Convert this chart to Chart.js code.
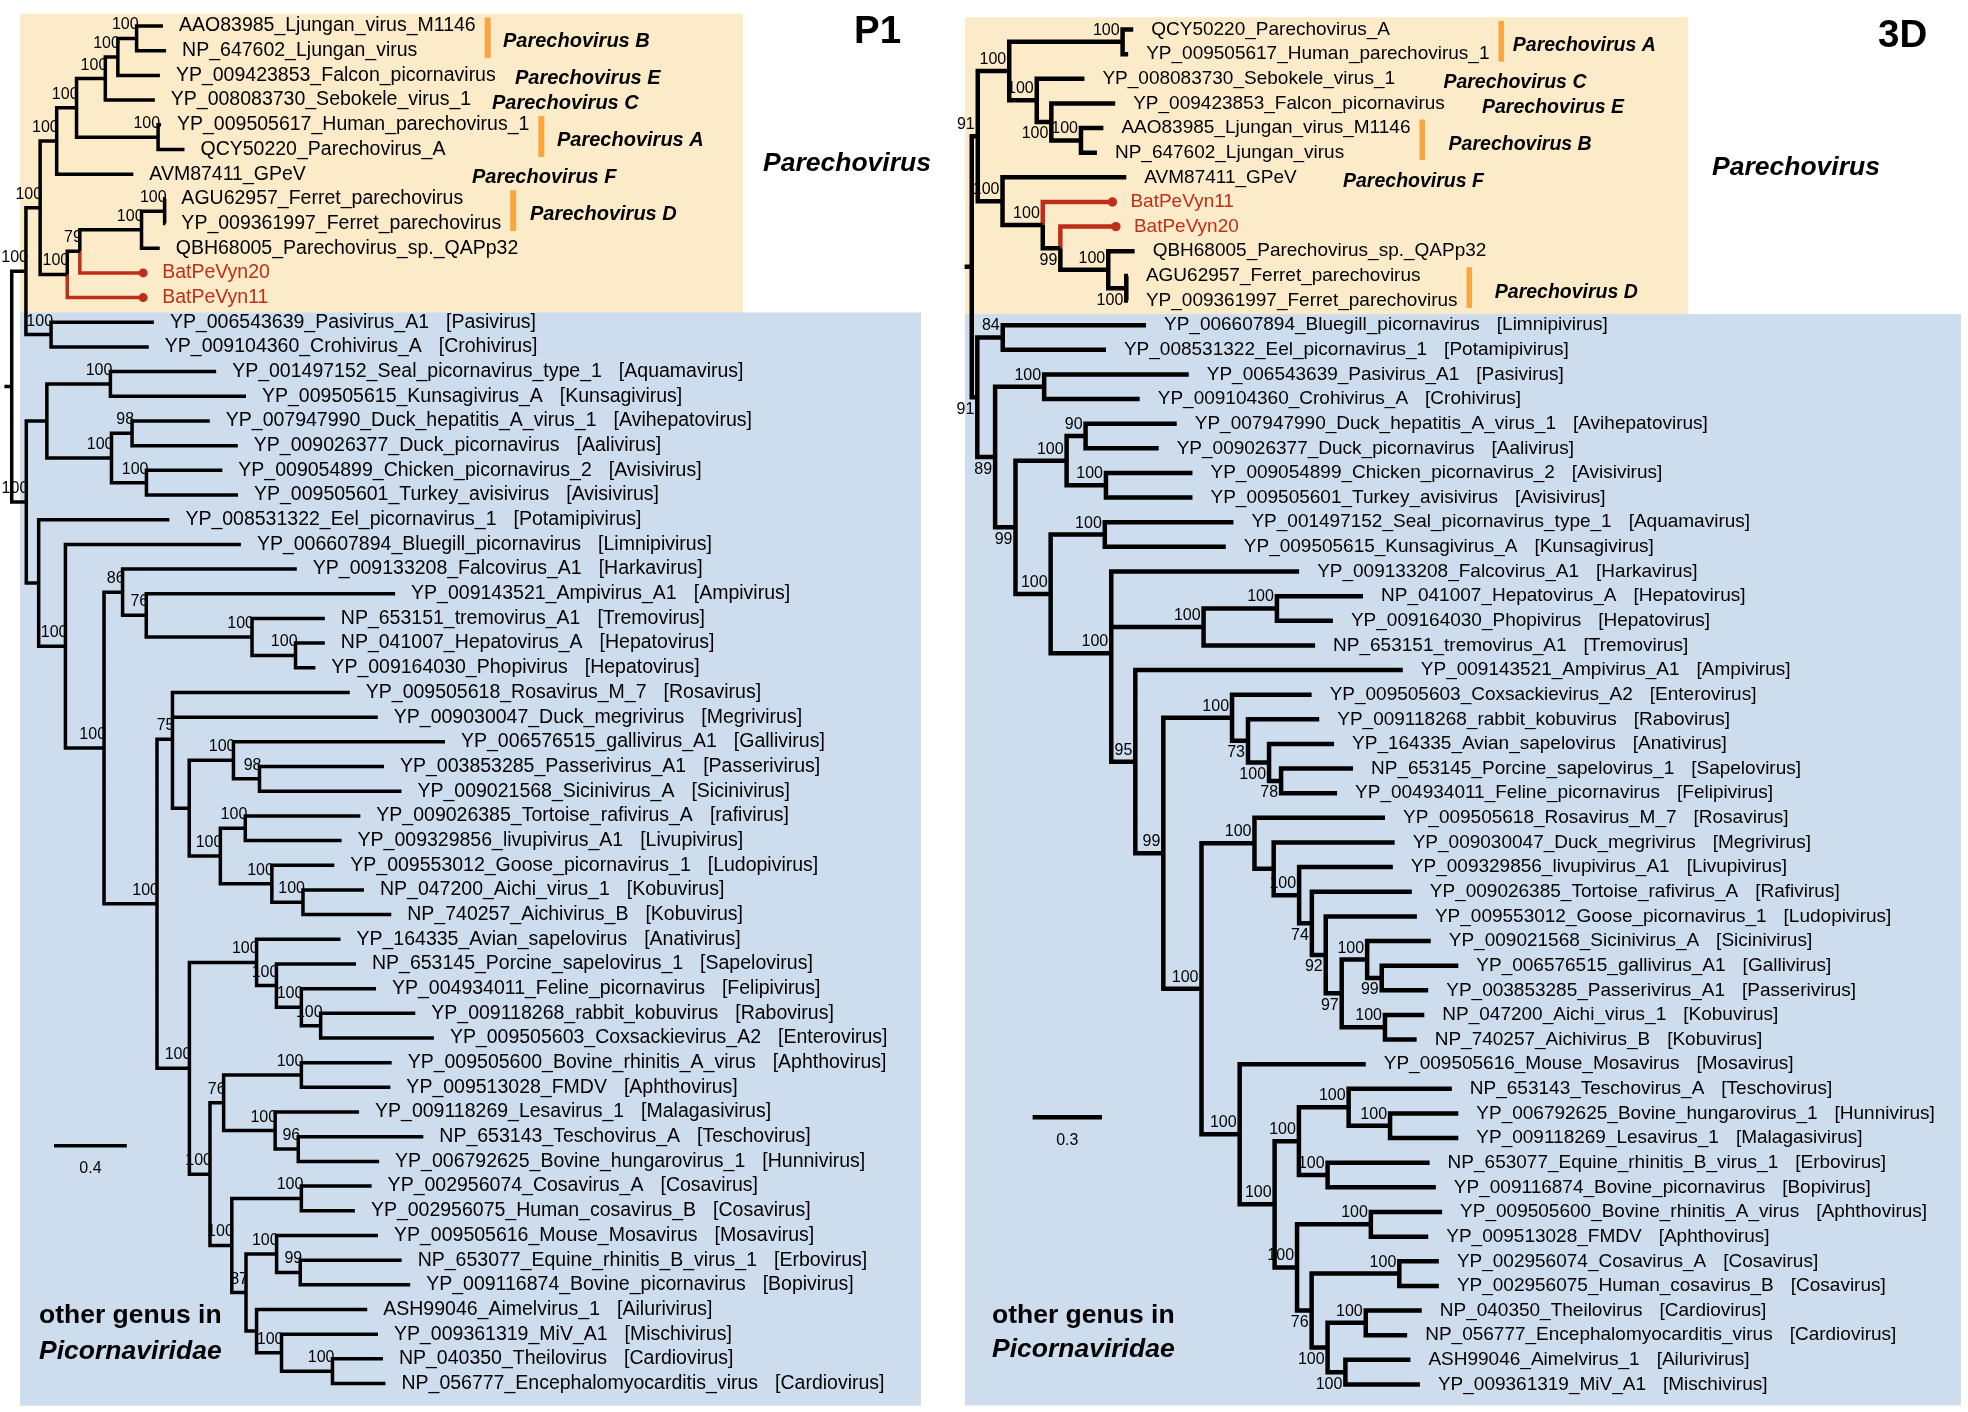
<!DOCTYPE html>
<html>
<head>
<meta charset="utf-8">
<title>Picornaviridae phylogeny - P1 and 3D</title>
<script src="https://cdn.jsdelivr.net/npm/chart.js@4.4.1/dist/chart.umd.min.js"></script>
<style>
  html, body { margin: 0; padding: 0; background: #fff; }
  #wrap { position: relative; width: 1968px; height: 1412px; overflow: hidden; }
  #wrap canvas { position: absolute; top: 0; }
  #p1 { left: 0; }
  #p3 { left: 940px; }
</style>
</head>
<body>
<div id="wrap">
  <canvas id="p1" width="940" height="1412"></canvas>
  <canvas id="p3" width="1028" height="1412"></canvas>
</div>
<script>
// ---- P1 tree data ----
const p1Taxa = [
    'AAO83985_Ljungan_virus_M1146', 'NP_647602_Ljungan_virus', 'YP_009423853_Falcon_picornavirus',
    'YP_008083730_Sebokele_virus_1', 'YP_009505617_Human_parechovirus_1', 'QCY50220_Parechovirus_A',
    'AVM87411_GPeV', 'AGU62957_Ferret_parechovirus', 'YP_009361997_Ferret_parechovirus',
    'QBH68005_Parechovirus_sp._QAPp32', 'BatPeVyn20', 'BatPeVyn11',
    'YP_006543639_Pasivirus_A1', 'YP_009104360_Crohivirus_A', 'YP_001497152_Seal_picornavirus_type_1',
    'YP_009505615_Kunsagivirus_A', 'YP_007947990_Duck_hepatitis_A_virus_1', 'YP_009026377_Duck_picornavirus',
    'YP_009054899_Chicken_picornavirus_2', 'YP_009505601_Turkey_avisivirus', 'YP_008531322_Eel_picornavirus_1',
    'YP_006607894_Bluegill_picornavirus', 'YP_009133208_Falcovirus_A1', 'YP_009143521_Ampivirus_A1',
    'NP_653151_tremovirus_A1', 'NP_041007_Hepatovirus_A', 'YP_009164030_Phopivirus',
    'YP_009505618_Rosavirus_M_7', 'YP_009030047_Duck_megrivirus', 'YP_006576515_gallivirus_A1',
    'YP_003853285_Passerivirus_A1', 'YP_009021568_Sicinivirus_A', 'YP_009026385_Tortoise_rafivirus_A',
    'YP_009329856_livupivirus_A1', 'YP_009553012_Goose_picornavirus_1', 'NP_047200_Aichi_virus_1',
    'NP_740257_Aichivirus_B', 'YP_164335_Avian_sapelovirus', 'NP_653145_Porcine_sapelovirus_1',
    'YP_004934011_Feline_picornavirus', 'YP_009118268_rabbit_kobuvirus', 'YP_009505603_Coxsackievirus_A2',
    'YP_009505600_Bovine_rhinitis_A_virus', 'YP_009513028_FMDV', 'YP_009118269_Lesavirus_1',
    'NP_653143_Teschovirus_A', 'YP_006792625_Bovine_hungarovirus_1', 'YP_002956074_Cosavirus_A',
    'YP_002956075_Human_cosavirus_B', 'YP_009505616_Mouse_Mosavirus', 'NP_653077_Equine_rhinitis_B_virus_1',
    'YP_009116874_Bovine_picornavirus', 'ASH99046_Aimelvirus_1', 'YP_009361319_MiV_A1',
    'NP_040350_Theilovirus', 'NP_056777_Encephalomyocarditis_virus'
];
const p1Genus = [
    '', '', '', '', '', '', '', '', '', '', '', '',
    'Pasivirus', 'Crohivirus', 'Aquamavirus', 'Kunsagivirus', 'Avihepatovirus', 'Aalivirus',
    'Avisivirus', 'Avisivirus', 'Potamipivirus', 'Limnipivirus', 'Harkavirus', 'Ampivirus',
    'Tremovirus', 'Hepatovirus', 'Hepatovirus', 'Rosavirus', 'Megrivirus', 'Gallivirus',
    'Passerivirus', 'Sicinivirus', 'rafivirus', 'Livupivirus', 'Ludopivirus', 'Kobuvirus',
    'Kobuvirus', 'Anativirus', 'Sapelovirus', 'Felipivirus', 'Rabovirus', 'Enterovirus',
    'Aphthovirus', 'Aphthovirus', 'Malagasivirus', 'Teschovirus', 'Hunnivirus', 'Cosavirus',
    'Cosavirus', 'Mosavirus', 'Erbovirus', 'Bopivirus', 'Ailurivirus', 'Mischivirus',
    'Cardiovirus', 'Cardiovirus'
];
// newick: leaves are indices into p1Taxa, node labels are bootstrap values, lengths in subst./site
const p1Tree =
    '(((' +
    '(((((0:0.145,1:0.162)100:0.103,2:0.231)100:0.069,3:0.272)100:0.158,(4:0.016,5:0.145)100:0.448)100:0.109,6:0.421)100:0.091,' +
    '((((7:0.004,8:0.004)100:0.127,9:0.100)100:0.339,10:0.348)79:0.069,11:0.417)100:0.149' +
    ')100:0.078,(12:0.565,13:0.537)100:0.138)100:0.078,' +
    '(((14:0.581,15:0.745)100:0.349,((16:0.427,17:0.581)98:0.113,(18:0.417,19:0.503)100:0.192)100:0.355):0.113,' +
    '(20:0.718,(21:0.964,(' +
    '(22:0.957,(23:1.367,(24:0.400,(25:0.161,26:0.109)100:0.239)100:0.581)76:0.130)86:0.102,' +
    '((27:0.974,28:1.128,((29:1.162,(30:0.684,31:0.780)98:0.143)100:0.243,((32:0.632,33:0.529)100:0.137,(34:0.343,(35:0.335,36:0.485)100:0.171)100:0.283)100:0.171):0.092)75:0.085,' +
    '((37:0.461,(38:0.437,(39:0.410,(40:0.520,41:0.622)100:0.106)100:0.137)100:0.109)100:0.369,' +
    '(((42:0.496,43:0.489)100:0.427,(44:0.461,(45:0.687,46:0.444)96:0.127)100:0.283)76:0.075,' +
    '((47:0.386,48:0.294)100:0.382,((49:0.557,(50:0.557,51:0.604)99:0.130)100:0.168,(52:0.608,(53:0.530,(54:0.277,55:0.291)100:0.280)100:0.137):0.058)87:0.078)100:0.120' +
    ')100:0.113)100:0.178)100:0.291)100:0.212)100:0.147):0.068)100:0.080):0.040;';
const p1Highlight = [10, 11];
const p1Clades = [
    ['Parechovirus B', 0, 1, true], ['Parechovirus E', 2, 2, false], ['Parechovirus C', 3, 3, false],
    ['Parechovirus A', 4, 5, true], ['Parechovirus F', 6, 6, false], ['Parechovirus D', 7, 8, true]
];
const p1ScaleBar = 0.4;

// ---- 3D tree data ----
const p3Taxa = [
    'QCY50220_Parechovirus_A', 'YP_009505617_Human_parechovirus_1', 'YP_008083730_Sebokele_virus_1',
    'YP_009423853_Falcon_picornavirus', 'AAO83985_Ljungan_virus_M1146', 'NP_647602_Ljungan_virus',
    'AVM87411_GPeV', 'BatPeVyn11', 'BatPeVyn20',
    'QBH68005_Parechovirus_sp._QAPp32', 'AGU62957_Ferret_parechovirus', 'YP_009361997_Ferret_parechovirus',
    'YP_006607894_Bluegill_picornavirus', 'YP_008531322_Eel_picornavirus_1', 'YP_006543639_Pasivirus_A1',
    'YP_009104360_Crohivirus_A', 'YP_007947990_Duck_hepatitis_A_virus_1', 'YP_009026377_Duck_picornavirus',
    'YP_009054899_Chicken_picornavirus_2', 'YP_009505601_Turkey_avisivirus', 'YP_001497152_Seal_picornavirus_type_1',
    'YP_009505615_Kunsagivirus_A', 'YP_009133208_Falcovirus_A1', 'NP_041007_Hepatovirus_A',
    'YP_009164030_Phopivirus', 'NP_653151_tremovirus_A1', 'YP_009143521_Ampivirus_A1',
    'YP_009505603_Coxsackievirus_A2', 'YP_009118268_rabbit_kobuvirus', 'YP_164335_Avian_sapelovirus',
    'NP_653145_Porcine_sapelovirus_1', 'YP_004934011_Feline_picornavirus', 'YP_009505618_Rosavirus_M_7',
    'YP_009030047_Duck_megrivirus', 'YP_009329856_livupivirus_A1', 'YP_009026385_Tortoise_rafivirus_A',
    'YP_009553012_Goose_picornavirus_1', 'YP_009021568_Sicinivirus_A', 'YP_006576515_gallivirus_A1',
    'YP_003853285_Passerivirus_A1', 'NP_047200_Aichi_virus_1', 'NP_740257_Aichivirus_B',
    'YP_009505616_Mouse_Mosavirus', 'NP_653143_Teschovirus_A', 'YP_006792625_Bovine_hungarovirus_1',
    'YP_009118269_Lesavirus_1', 'NP_653077_Equine_rhinitis_B_virus_1', 'YP_009116874_Bovine_picornavirus',
    'YP_009505600_Bovine_rhinitis_A_virus', 'YP_009513028_FMDV', 'YP_002956074_Cosavirus_A',
    'YP_002956075_Human_cosavirus_B', 'NP_040350_Theilovirus', 'NP_056777_Encephalomyocarditis_virus',
    'ASH99046_Aimelvirus_1', 'YP_009361319_MiV_A1'
];
const p3Genus = [
    '', '', '', '', '', '', '', '', '', '', '', '',
    'Limnipivirus', 'Potamipivirus', 'Pasivirus', 'Crohivirus', 'Avihepatovirus', 'Aalivirus',
    'Avisivirus', 'Avisivirus', 'Aquamavirus', 'Kunsagivirus', 'Harkavirus', 'Hepatovirus',
    'Hepatovirus', 'Tremovirus', 'Ampivirus', 'Enterovirus', 'Rabovirus', 'Anativirus',
    'Sapelovirus', 'Felipivirus', 'Rosavirus', 'Megrivirus', 'Livupivirus', 'Rafivirus',
    'Ludopivirus', 'Sicinivirus', 'Gallivirus', 'Passerivirus', 'Kobuvirus', 'Kobuvirus',
    'Mosavirus', 'Teschovirus', 'Hunnivirus', 'Malagasivirus', 'Erbovirus', 'Bopivirus',
    'Aphthovirus', 'Aphthovirus', 'Cosavirus', 'Cosavirus', 'Cardiovirus', 'Cardiovirus',
    'Ailurivirus', 'Mischivirus'
];
const p3Tree =
    '(' +
    '(((0:0.046,1:0.024)100:0.490,(2:0.206,(3:0.276,(4:0.097,5:0.069)100:0.128)100:0.063)100:0.119)100:0.136,' +
    '(6:0.535,(7:0.301,(8:0.240,(9:0.114,(10:0.007,11:0.007)100:0.078)100:0.207)99:0.076)100:0.174)100:0.107)91:0.026,' +
    '((12:0.619,13:0.446)84:0.110,' +
    '((14:0.625,15:0.413)100:0.212,' +
    '(((16:0.394,17:0.316)90:0.082,(18:0.374,19:0.374)100:0.170)100:0.221,' +
    '((20:0.556,21:0.523)100:0.234,' +
    '(22:0.812,((23:0.372,24:0.242)100:0.317,25:0.482)100:0.399,' +
    '(26:1.156,(' +
    '(27:0.344,(28:0.308,(29:0.281,(30:0.311,31:0.242)78:0.052)100:0.091)73:0.069)100:0.297,' +
    '(' +
    '(32:0.564,(33:0.523,(34:0.405,(35:0.432,(36:0.394,((37:0.275,(38:0.331,39:0.201)99:0.063)100:0.110,(40:0.170,41:0.137)100:0.187)97:0.069)92:0.060)74:0.055)100:0.110):0.083)100:0.229,' +
    '(42:0.545,(' +
    '((43:0.446,(44:0.295,45:0.295)100:0.179)100:0.215,(46:0.441,47:0.468)100:0.124)100:0.105,' +
    '((48:0.308,49:0.248)100:0.319,((50:0.171,51:0.171)100:0.379,((52:0.242,53:0.179)100:0.165,(54:0.281,55:0.322)100:0.077)100:0.069)76:0.063)100:0.097' +
    ')100:0.151)100:0.165' +
    ')100:0.165' +
    ')99:0.121)95:0.104' +
    ')100:0.262)100:0.152)99:0.088)89:0.077)91:0.024' +
    '):0.031;';
const p3Highlight = [7, 8];
const p3Clades = [
    ['Parechovirus A', 0, 1, true], ['Parechovirus C', 2, 2, false], ['Parechovirus E', 3, 3, false],
    ['Parechovirus B', 4, 5, true], ['Parechovirus F', 6, 6, false], ['Parechovirus D', 10, 11, true]
];
const p3ScaleBar = 0.3;

// ---- styling ----
const FONT = '"Liberation Sans", Arial, Helvetica, sans-serif';
const RED = '#BF2E18';
const ORANGE = '#F7A641';
const YELLOW = '#FCEBC8';
const BLUE = '#CDDDEE';

const p1Layout = {
    width: 940, height: 1412, rootPx: 7.3, pxPerUnit: 183.8, firstRowPx: 21.7, rowPx: 24.84,
    lineWidth: 3.5, dotRadius: 4.5, taxonFont: 19.5, tipGap: 16, dotGap: 3, genusGap: 17,
    supportFont: 16, supportDx: 2, supportLift: 9, supportDrop: 16.5, belowIfShorter: 0,
    cladeFont: 20, cladeDy: 8.7, cladeX: [503, 515, 492, 557, 472, 530], barGap: 9, barWidth: 6,
    yellow: [20, 743, -0.5, 11.6], blue: [20, 921, 11.6, 55.9],
    title: [854, 43], bigLabel: [763, 171], other: [39, 1323, 1359], scaleBar: [54, 1145.7, 1173]
};
const p3Layout = {
    width: 1028, height: 1412, rootPx: 27.3, pxPerUnit: 233.5, firstRowPx: 25, rowPx: 24.8,
    lineWidth: 4.5, dotRadius: 4.7, taxonFont: 19, tipGap: 18, dotGap: 0, genusGap: 17,
    supportFont: 16, supportDx: -3, supportLift: 7, supportDrop: 16.5, belowIfShorter: 22,
    cladeFont: 19.5, cladeDy: 9.3, cladeX: [572.8, 503.4, 542, 508.6, 403, 554.8], barGap: 9, barWidth: 5.5,
    yellow: [25, 748, -0.5, 11.55], blue: [25, 1021, 11.55, 55.85],
    title: [938, 47], bigLabel: [772, 174.5], other: [52, 1323, 1357], scaleBar: [92.6, 1117.3, 1145]
};

// ---- tree helpers ----
function parseNewick(str) {
    let i = 0;
    function readNode(parent) {
        const node = { parent: parent, children: [], len: 0 };
        if (str[i] === '(') {
            i++;
            do { node.children.push(readNode(node)); } while (str[i++] === ',');
        }
        let tok = '';
        while (i < str.length && ',):;'.indexOf(str[i]) < 0) tok += str[i++];
        if (node.children.length) node.support = tok; else node.leaf = Number(tok);
        if (str[i] === ':') {
            i++;
            let num = '';
            while (i < str.length && ',);'.indexOf(str[i]) < 0) num += str[i++];
            node.len = Number(num);
        }
        return node;
    }
    return readNode(null);
}

// x = distance from root, y = leaf row (internal nodes sit at the mean of their children)
function placeNodes(node, parentX, list) {
    node.x = parentX + node.len;
    list.push(node);
    if (node.children.length) {
        node.children.forEach(c => placeNodes(c, node.x, list));
        node.y = node.children.reduce((s, c) => s + c.y, 0) / node.children.length;
    } else {
        node.y = node.leaf;
    }
}

function branchData(root, highlight) {
    const black = [], red = [];
    black.push({ x: root.x - root.len, y: root.y }, { x: root.x, y: root.y }, { x: null, y: null });
    (function walk(n) {
        n.children.forEach(c => {
            const hot = !c.children.length && highlight.includes(c.leaf);
            (hot ? red : black).push(
                { x: n.x, y: n.y }, { x: n.x, y: c.y }, { x: c.x, y: c.y }, { x: null, y: null });
            walk(c);
        });
    })(root);
    return { black, red };
}

function decorPlugin(p) {
    const L = p.layout;
    return {
        id: 'decor_' + p.id,
        beforeDatasetsDraw(chart) {
            const ctx = chart.ctx, ys = chart.scales.y;
            ctx.save();
            [[YELLOW, L.yellow], [BLUE, L.blue]].forEach(([col, b]) => {
                const top = ys.getPixelForValue(b[2]), bot = ys.getPixelForValue(b[3]);
                ctx.fillStyle = col;
                ctx.fillRect(b[0], top, b[1] - b[0], bot - top);
            });
            ctx.restore();
        },
        afterDatasetsDraw(chart) {
            const ctx = chart.ctx, xs = chart.scales.x, ys = chart.scales.y;
            ctx.save();

            // taxon names + genus in brackets
            const rightEdge = [];
            ctx.textAlign = 'left';
            ctx.textBaseline = 'middle';
            ctx.font = L.taxonFont + 'px ' + FONT;
            p.leaves.forEach(n => {
                const i = n.leaf, hot = p.highlight.includes(i);
                const x0 = xs.getPixelForValue(n.x) + L.tipGap + (hot ? L.dotGap : 0);
                const y0 = ys.getPixelForValue(i);
                ctx.fillStyle = hot ? RED : '#000';
                ctx.fillText(p.taxa[i], x0, y0);
                const w = ctx.measureText(p.taxa[i]).width;
                rightEdge[i] = x0 + w;
                if (p.genus[i]) {
                    ctx.fillStyle = '#000';
                    ctx.fillText('[' + p.genus[i] + ']', x0 + w + L.genusGap, y0);
                }
            });

            // bootstrap values
            ctx.font = L.supportFont + 'px ' + FONT;
            ctx.textAlign = 'right';
            ctx.textBaseline = 'alphabetic';
            ctx.fillStyle = '#000';
            p.nodes.forEach(n => {
                if (!n.children.length || !n.support) return;
                const nx = xs.getPixelForValue(n.x), ny = ys.getPixelForValue(n.y);
                let below = false;
                if (n.parent && L.belowIfShorter) {
                    const sib = n.parent.children;
                    below = sib[sib.length - 1] === n && nx - xs.getPixelForValue(n.parent.x) < L.belowIfShorter;
                }
                ctx.fillText(n.support, nx + L.supportDx, below ? ny + L.supportDrop : ny - L.supportLift);
            });

            // clade names and orange bars
            ctx.textAlign = 'left';
            p.clades.forEach((c, k) => {
                const [name, first, last, bar] = c;
                if (bar) {
                    let right = 0;
                    for (let i = first; i <= last; i++) right = Math.max(right, rightEdge[i]);
                    const top = ys.getPixelForValue(first - 0.35), bot = ys.getPixelForValue(last + 0.3);
                    ctx.fillStyle = ORANGE;
                    ctx.fillRect(right + L.barGap, top, L.barWidth, bot - top);
                }
                const yMid = (ys.getPixelForValue(first) + ys.getPixelForValue(last)) / 2;
                ctx.fillStyle = '#000';
                ctx.font = 'italic bold ' + L.cladeFont + 'px ' + FONT;
                ctx.fillText(name, L.cladeX[k], yMid + L.cladeDy);
            });

            // panel titles and group labels
            ctx.fillStyle = '#000';
            ctx.font = 'bold 38.5px ' + FONT;
            ctx.fillText(p.title, L.title[0], L.title[1]);
            ctx.font = 'italic bold 26.5px ' + FONT;
            ctx.fillText('Parechovirus', L.bigLabel[0], L.bigLabel[1]);
            ctx.font = 'bold 26.5px ' + FONT;
            ctx.fillText('other genus in', L.other[0], L.other[1]);
            ctx.font = 'italic bold 26.5px ' + FONT;
            ctx.fillText('Picornaviridae', L.other[0], L.other[2]);

            // scale bar
            const sx = L.scaleBar[0];
            const len = xs.getPixelForValue(p.scaleBar) - xs.getPixelForValue(0);
            ctx.strokeStyle = '#000';
            ctx.lineWidth = L.lineWidth;
            ctx.beginPath();
            ctx.moveTo(sx, L.scaleBar[1]);
            ctx.lineTo(sx + len, L.scaleBar[1]);
            ctx.stroke();
            ctx.font = '16px ' + FONT;
            ctx.textAlign = 'center';
            ctx.fillText(String(p.scaleBar), sx + len / 2, L.scaleBar[2]);

            ctx.restore();
        }
    };
}

function drawPanel(p) {
    const root = parseNewick(p.newick);
    const nodes = [];
    placeNodes(root, -root.len, nodes);
    p.nodes = nodes;
    p.leaves = nodes.filter(n => !n.children.length);
    const br = branchData(root, p.highlight);
    const L = p.layout;
    const xMin = -L.rootPx / L.pxPerUnit;
    const yMin = -L.firstRowPx / L.rowPx;
    const dots = p.leaves.filter(n => p.highlight.includes(n.leaf)).map(n => ({ x: n.x, y: n.y }));

    new Chart(document.getElementById(p.id), {
        type: 'scatter',
        data: {
            datasets: [
                { data: br.black, showLine: true, borderColor: '#000', borderWidth: L.lineWidth,
                  pointRadius: 0, borderJoinStyle: 'miter', borderCapStyle: 'butt', tension: 0, clip: false },
                { data: br.red, showLine: true, borderColor: RED, borderWidth: L.lineWidth,
                  pointRadius: 0, borderJoinStyle: 'miter', borderCapStyle: 'butt', tension: 0, clip: false },
                { data: dots, showLine: false, pointRadius: L.dotRadius, pointBackgroundColor: RED,
                  pointBorderWidth: 0, clip: false }
            ]
        },
        options: {
            responsive: false,
            animation: false,
            devicePixelRatio: 1,
            events: [],
            layout: { padding: 0 },
            plugins: { legend: { display: false }, tooltip: { enabled: false }, title: { display: false } },
            scales: {
                x: { type: 'linear', display: false, bounds: 'data', min: xMin, max: xMin + L.width / L.pxPerUnit },
                y: { type: 'linear', display: false, bounds: 'data', reverse: true, min: yMin, max: yMin + L.height / L.rowPx }
            }
        },
        plugins: [decorPlugin(p)]
    });
}

document.addEventListener('DOMContentLoaded', function() {
    drawPanel({ id: 'p1', title: 'P1', taxa: p1Taxa, genus: p1Genus, newick: p1Tree, highlight: p1Highlight,
                clades: p1Clades, scaleBar: p1ScaleBar, layout: p1Layout });
    drawPanel({ id: 'p3', title: '3D', taxa: p3Taxa, genus: p3Genus, newick: p3Tree, highlight: p3Highlight,
                clades: p3Clades, scaleBar: p3ScaleBar, layout: p3Layout });
});
</script>
</body>
</html>
